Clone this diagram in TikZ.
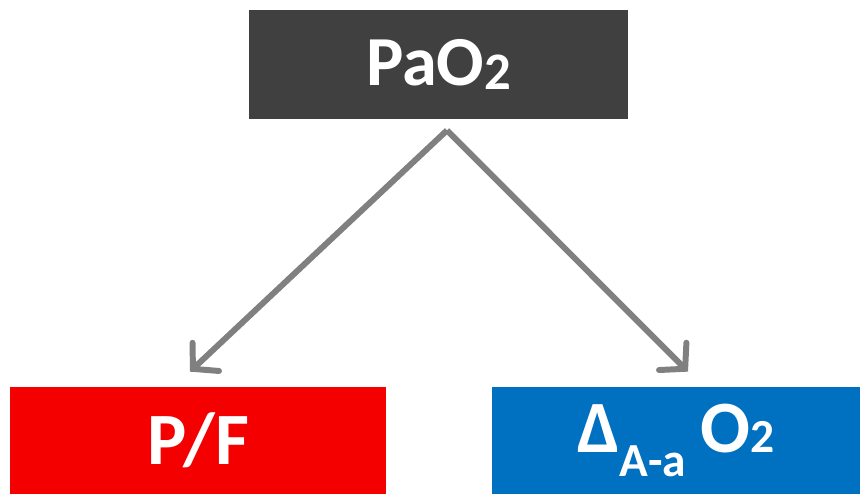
\documentclass[tikz,border=0pt]{standalone}
\usepackage{fontspec}
\setmainfont{Carlito}
\usetikzlibrary{positioning,arrows.meta}
\definecolor{boxgray}{HTML}{404040}
\definecolor{boxred}{HTML}{F40000}
\definecolor{boxblue}{HTML}{0070C0}
\definecolor{arrowgray}{HTML}{808080}
\begin{document}
\begin{tikzpicture}[
    block/.style={rectangle, inner sep=0pt, text=white, font=\bfseries\fontsize{42}{48}\selectfont},
    link/.style={line width=3.4pt, arrowgray, -{Straight Barb[length=10pt, width=22pt, line width=3.4pt, line cap=round]}}
  ]
    \useasboundingbox (0,0) rectangle (17.2,-9.9);
    \node[block, fill=boxgray, minimum width=7.58cm, minimum height=2.18cm, font=\bfseries\fontsize{40}{46}\selectfont] (pao2) at (8.77,-1.29) {PaO\raisebox{-0.05em}{\fontsize{30}{34}\selectfont 2}};
    \node[block, fill=boxred, minimum width=7.52cm, minimum height=2.14cm] (pf) at (3.96,-8.81) {P/F};
    \node[block, fill=boxblue, minimum width=7.36cm, minimum height=2.14cm] (aa) at (13.52,-8.81) {Δ\raisebox{-0.32em}{\fontsize{27}{30}\selectfont A-a}\hspace{0.2em}O{\fontsize{27}{30}\selectfont 2}};
    % fork point and arrow tips
    \coordinate (fork) at ([xshift=0.17cm, yshift=-0.22cm]pao2.south);
    \coordinate (pftip) at ([xshift=-0.16cm, yshift=0.3cm]pf.north);
    \coordinate (aatip) at ([xshift=0.24cm, yshift=0.3cm]aa.north);
    \draw[link] (fork) -- (pftip);
    \draw[link] (fork) -- (aatip);
\end{tikzpicture}
\end{document}
